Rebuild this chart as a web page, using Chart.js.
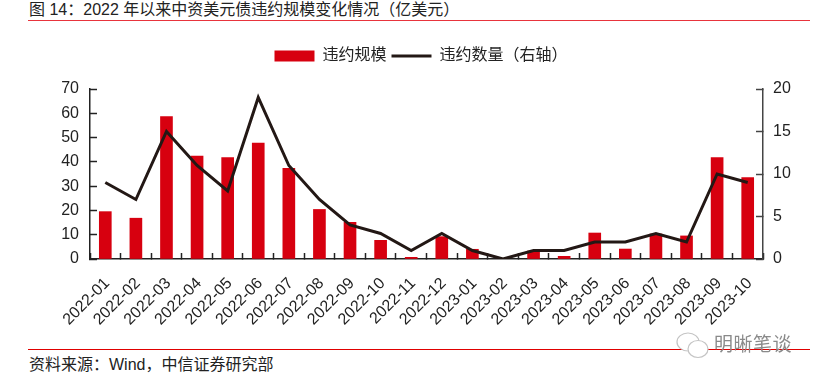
<!DOCTYPE html>
<html>
<head>
<meta charset="utf-8">
<script src="https://cdn.jsdelivr.net/npm/chart.js@4"></script>
<style>
  html, body { margin: 0; padding: 0; background: #fff; }
  body { width: 819px; height: 381px; position: relative; overflow: hidden; font-family: "Liberation Sans", "Noto Sans CJK SC", sans-serif; color: #222; }
  #title { position: absolute; left: 29px; top: 0; font-size: 16px; line-height: 20px; white-space: nowrap; }
  #topRule { position: absolute; left: 28px; top: 20px; width: 782px; height: 1px; background: #e8343c; }
  #bottomRule { position: absolute; left: 28px; top: 349px; width: 782px; height: 1px; background: #e00000; }
  #source { position: absolute; left: 29px; top: 355px; font-size: 16px; line-height: 20px; white-space: nowrap; }
  #mark { position: absolute; left: 714px; top: 332px; font-size: 19px; line-height: 26px; color: #8a8a8a; white-space: nowrap; letter-spacing: 0.5px; }
  #icon { position: absolute; left: 675px; top: 331px; }
  canvas { position: absolute; left: 21px; top: 43px; }
</style>
</head>
<body>
<div id="title">图 14：2022 年以来中资美元债违约规模变化情况（亿美元）</div>
<div id="topRule"></div>
<canvas id="defaultChart" width="800" height="297"></canvas>
<div id="bottomRule"></div>
<div id="source">资料来源：Wind，中信证券研究部</div>
<svg id="icon" width="36" height="30" viewBox="0 0 36 30">
  <ellipse cx="13" cy="11" rx="11" ry="9" fill="#fff" stroke="#c4c4c4" stroke-width="1.2"/>
  <ellipse cx="23" cy="18" rx="10" ry="8.5" fill="#fff" stroke="#c4c4c4" stroke-width="1.2"/>
</svg>
<div id="mark">明晰笔谈</div>

<script>
// Monthly default data
const months = ['2022-01', '2022-02', '2022-03', '2022-04', '2022-05', '2022-06', '2022-07', '2022-08', '2022-09', '2022-10', '2022-11', '2022-12',
  '2023-01', '2023-02', '2023-03', '2023-04', '2023-05', '2023-06', '2023-07', '2023-08', '2023-09', '2023-10'];
const defaultSize = [19.5, 16.8, 58.6, 42.4, 41.8, 47.7, 37.3, 20.4, 15.1, 7.7, 0.7, 9.2, 4, 0, 3.3, 1.1, 10.7, 4.1, 10.3, 9.5, 41.8, 33.5];
const defaultCount = [9, 7, 15, 11, 8, 19, 11, 7, 4, 3, 1, 3, 1, 0, 1, 1, 2, 2, 3, 2, 10, 9];

const labelFont = { family: '"Liberation Sans", "Noto Sans CJK SC", sans-serif', size: 16 };
const inkColor = '#222222';

// Keep a fixed gap under the legend
const legendGap = {
  id: 'legendGap',
  beforeInit(chart) {
    const fit = chart.legend.fit;
    chart.legend.fit = function () {
      fit.call(this);
      this.height = 46;
    };
  }
};

const ctx = document.getElementById('defaultChart').getContext('2d');

const defaultChart = new Chart(ctx, {
  type: 'bar',
  data: {
    labels: months,
    datasets: [
      {
        type: 'line',
        label: '违约数量（右轴）',
        data: defaultCount,
        yAxisID: 'yCount',
        borderColor: '#231815',
        backgroundColor: '#231815',
        borderWidth: 3,
        pointRadius: 0,
        tension: 0,
        order: 1,
        pointStyle: 'line'
      },
      {
        label: '违约规模',
        data: defaultSize,
        yAxisID: 'ySize',
        backgroundColor: '#d7000f',
        barThickness: 12,
        order: 2,
        pointStyle: 'rect'
      }
    ]
  },
  plugins: [legendGap],
  options: {
    responsive: false,
    animation: false,
    layout: { padding: 0 },
    scales: {
      x: {
        offset: true,
        border: { color: inkColor, width: 1.5 },
        grid: { drawOnChartArea: false, tickLength: -6, tickColor: inkColor, tickWidth: 1.5 },
        ticks: { color: inkColor, font: { ...labelFont, size: 16 }, maxRotation: 45, minRotation: 45, autoSkip: false, padding: 21, labelOffset: 2 },
        afterFit: (scale) => { scale.height = 81; }
      },
      ySize: {
        position: 'left',
        min: 0,
        max: 70,
        border: { color: inkColor, width: 1.5 },
        grid: { drawOnChartArea: false, tickLength: -7, tickColor: inkColor, tickWidth: 1.5 },
        ticks: { stepSize: 10, color: inkColor, font: labelFont, padding: 18 },
        afterFit: (scale) => { scale.width = 69; }
      },
      yCount: {
        position: 'right',
        min: 0,
        max: 20,
        border: { color: '#444444', width: 1.5 },
        grid: { drawOnChartArea: false, tickLength: -7, tickColor: '#444444', tickWidth: 1.5 },
        ticks: { stepSize: 5, color: inkColor, font: labelFont, padding: 17 },
        afterFit: (scale) => { scale.width = 58; }
      }
    },
    plugins: {
      tooltip: { enabled: false },
      legend: {
        position: 'top',
        reverse: true,
        labels: {
          usePointStyle: true,
          pointStyleWidth: 40,
          boxHeight: 11,
          padding: 5,
          color: inkColor,
          font: { family: labelFont.family, size: 16 }
        }
      }
    }
  }
});
</script>
</body>
</html>
